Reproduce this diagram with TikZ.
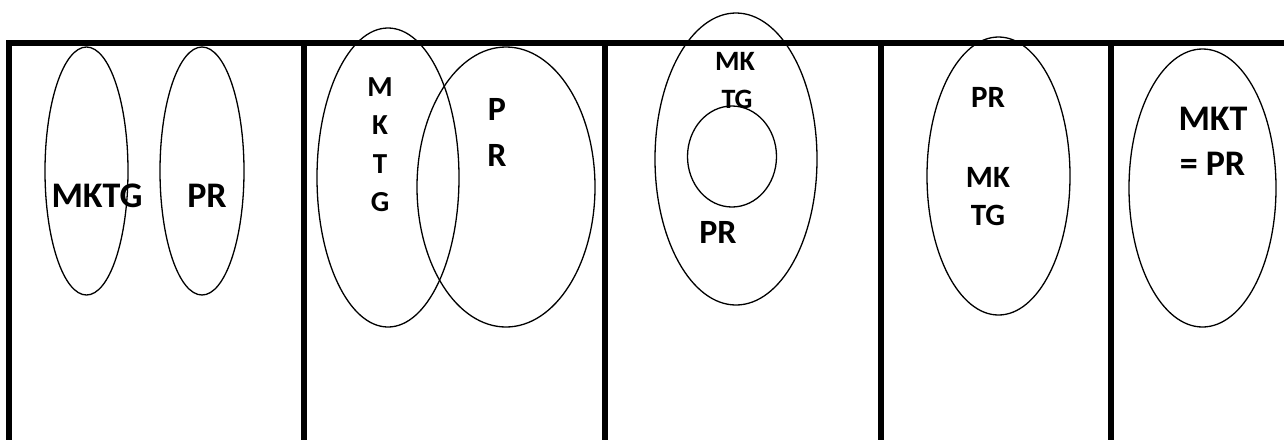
\documentclass[tikz,border=0pt]{standalone}
\usepackage{fontspec}
\setmainfont{Carlito}
\begin{document}
\begin{tikzpicture}[x=1pt,y=-1pt,
  frame/.style={line width=6pt},
  oval/.style={line width=1.3pt},
  lbl/.style={anchor=base,inner sep=0pt,font=\bfseries}]
\useasboundingbox (0,0) rectangle (1284,440);
% frame lines
\draw[frame] (6,42.5) -- (1284,42.5);
\foreach \x in {9,304,605,881,1111}{\draw[frame] (\x,42.5) -- (\x,440);}
% panel 1
\draw[oval] (86.5,171) ellipse [x radius=41.5pt, y radius=124pt];
\draw[oval] (202,171) ellipse [x radius=42pt, y radius=124pt];
\node[lbl,font=\fontsize{36}{36}\selectfont\bfseries] (a1) at (97,207) {MKTG};
\node[lbl,font=\fontsize{36}{36}\selectfont\bfseries] (a2) at (207,207) {PR};
% panel 2
\draw[oval] (388,177.5) ellipse [x radius=71pt, y radius=149.5pt];
\draw[oval] (506,187) ellipse [x radius=89pt, y radius=140pt];
\node[lbl,font=\fontsize{29}{29}\selectfont\bfseries] (b1) at (380,96) {M};
\node[lbl,font=\fontsize{29}{29}\selectfont\bfseries] (b2) at (380,134.5) {K};
\node[lbl,font=\fontsize{29}{29}\selectfont\bfseries] (b3) at (380,173) {T};
\node[lbl,font=\fontsize{29}{29}\selectfont\bfseries] (b4) at (380,211.5) {G};
\node[lbl,font=\fontsize{34}{34}\selectfont\bfseries] (b5) at (497,120) {P};
\node[lbl,font=\fontsize{34}{34}\selectfont\bfseries] (b6) at (497,166) {R};
% panel 3
\draw[oval] (736,159) ellipse [x radius=81pt, y radius=146pt];
\draw[oval] (732,156.5) ellipse [x radius=44.5pt, y radius=50.5pt];
\node[lbl,font=\fontsize{28}{28}\selectfont\bfseries] (c1) at (735,70) {MK};
\node[lbl,font=\fontsize{28}{28}\selectfont\bfseries] (c2) at (737,108) {TG};
\node[lbl,font=\fontsize{34}{34}\selectfont\bfseries] (c3) at (718,243) {PR};
% panel 4
\draw[oval] (998.5,176) ellipse [x radius=71.5pt, y radius=139pt];
\node[lbl,font=\fontsize{31}{31}\selectfont\bfseries] (d1) at (988,107) {PR};
\node[lbl,font=\fontsize{31}{31}\selectfont\bfseries] (d2) at (988,187) {MK};
\node[lbl,font=\fontsize{31}{31}\selectfont\bfseries] (d3) at (988,225) {TG};
% panel 5
\draw[oval] (1202.5,188) ellipse [x radius=73.5pt, y radius=139pt];
\node[lbl,font=\fontsize{36}{36}\selectfont\bfseries] (e1) at (1213,130) {MKT};
\node[lbl,font=\fontsize{36}{36}\selectfont\bfseries] (e2) at (1212.5,175) {= PR};
\end{tikzpicture}
\end{document}
